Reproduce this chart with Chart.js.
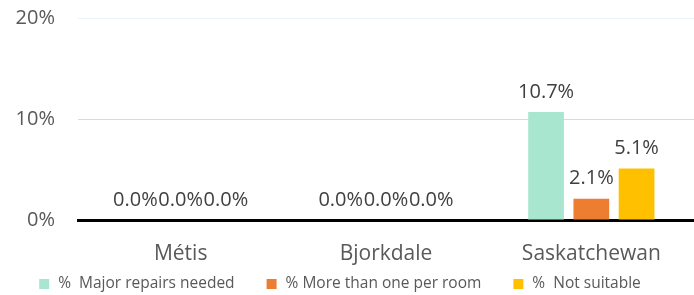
<!DOCTYPE html>
<html>
<head>
<meta charset="utf-8">
<script src="https://cdn.jsdelivr.net/npm/chart.js@4"></script>
<style>
  html, body { margin: 0; padding: 0; background: #fff; }
  #wrap { width: 694px; height: 295px; }
</style>
</head>
<body>
<div id="wrap"><canvas id="housingChart" width="694" height="295"></canvas></div>
<script>
// categories and series
var places = ["Métis", "Bjorkdale", "Saskatchewan"];
var majorRepairs = [0.0, 0.0, 10.7];
var moreThanOne = [0.0, 0.0, 2.1];
var notSuitable = [0.0, 0.0, 5.1];
var seriesNames = ["%  Major repairs needed", "% More than one per room", "%  Not suitable"];
var yTicks = [0, 10, 20];

// draws the value above each bar (no datalabels plugin available)
var barLabels = {
  id: "barLabels",
  afterDatasetsDraw: function (chart) {
    var ctx = chart.ctx;
    ctx.save();
    ctx.font = "20px 'Open Sans'";
    ctx.fillStyle = "#404040";
    ctx.textAlign = "center";
    ctx.textBaseline = "middle";
    chart.data.datasets.forEach(function (ds, i) {
      chart.getDatasetMeta(i).data.forEach(function (bar, j) {
        ctx.fillText(ds.data[j].toFixed(1) + "%", bar.x, bar.y - 20);
      });
    });
    ctx.restore();
  }
};

// simple legend row under the chart, wider gaps than the built-in one allows
var bottomLegend = {
  id: "bottomLegend",
  afterDraw: function (chart) {
    var ctx = chart.ctx;
    var box = 10, gapText = 9, gapItem = 32, y = 284;
    ctx.save();
    ctx.font = "15.5px 'Open Sans'";
    ctx.textBaseline = "middle";
    ctx.textAlign = "left";
    var items = chart.data.datasets.map(function (ds) {
      return { text: ds.label, color: ds.backgroundColor, w: box + gapText + ctx.measureText(ds.label).width };
    });
    var total = items.reduce(function (s, it) { return s + it.w; }, 0) + gapItem * (items.length - 1);
    var x = chart.width / 2 - 7 - total / 2;
    items.forEach(function (it) {
      ctx.fillStyle = it.color;
      ctx.fillRect(x, y - box / 2, box, box);
      ctx.fillStyle = "#595959";
      ctx.fillText(it.text, x + box + gapText, y);
      x += it.w + gapItem;
    });
    ctx.restore();
  }
};

const ctx = document.getElementById("housingChart");

new Chart(ctx, {
  type: "bar",
  data: {
    labels: places,
    datasets: [
      { label: seriesNames[0], data: majorRepairs, backgroundColor: "#a8e6d0" },
      { label: seriesNames[1], data: moreThanOne, backgroundColor: "#ed7d31" },
      { label: seriesNames[2], data: notSuitable, backgroundColor: "#ffc000" }
    ]
  },
  options: {
    responsive: false,
    animation: false,
    layout: { padding: { left: 0, right: -5, top: 0, bottom: 20 } },
    categoryPercentage: 0.661,
    barPercentage: 0.79,
    plugins: {
      tooltip: { enabled: false },
      legend: { display: false }
    },
    scales: {
      x: {
        grid: { display: false },
        border: { color: "#000", width: 3 },
        ticks: { font: { family: "Open Sans", size: 21 }, color: "#595959", padding: 13 },
        afterFit: function (axis) { axis.height = 55; }
      },
      y: {
        min: 0,
        max: 20,
        afterBuildTicks: function (axis) {
          axis.ticks = yTicks.map(function (v) { return { value: v }; });
        },
        border: { display: false },
        grid: {
          color: function (c) { return c.tick.value === 20 ? "#eef3f8" : "#cddcec"; },
          drawTicks: true,
          tickLength: 17,
          tickColor: "rgba(0,0,0,0)"
        },
        ticks: {
          font: { family: "Open Sans", size: 20 },
          color: "#595959",
          padding: 6,
          callback: function (v) { return v + "%"; }
        },
        afterFit: function (axis) { axis.width = 78; }
      }
    }
  },
  plugins: [barLabels, bottomLegend]
});
</script>
</body>
</html>
